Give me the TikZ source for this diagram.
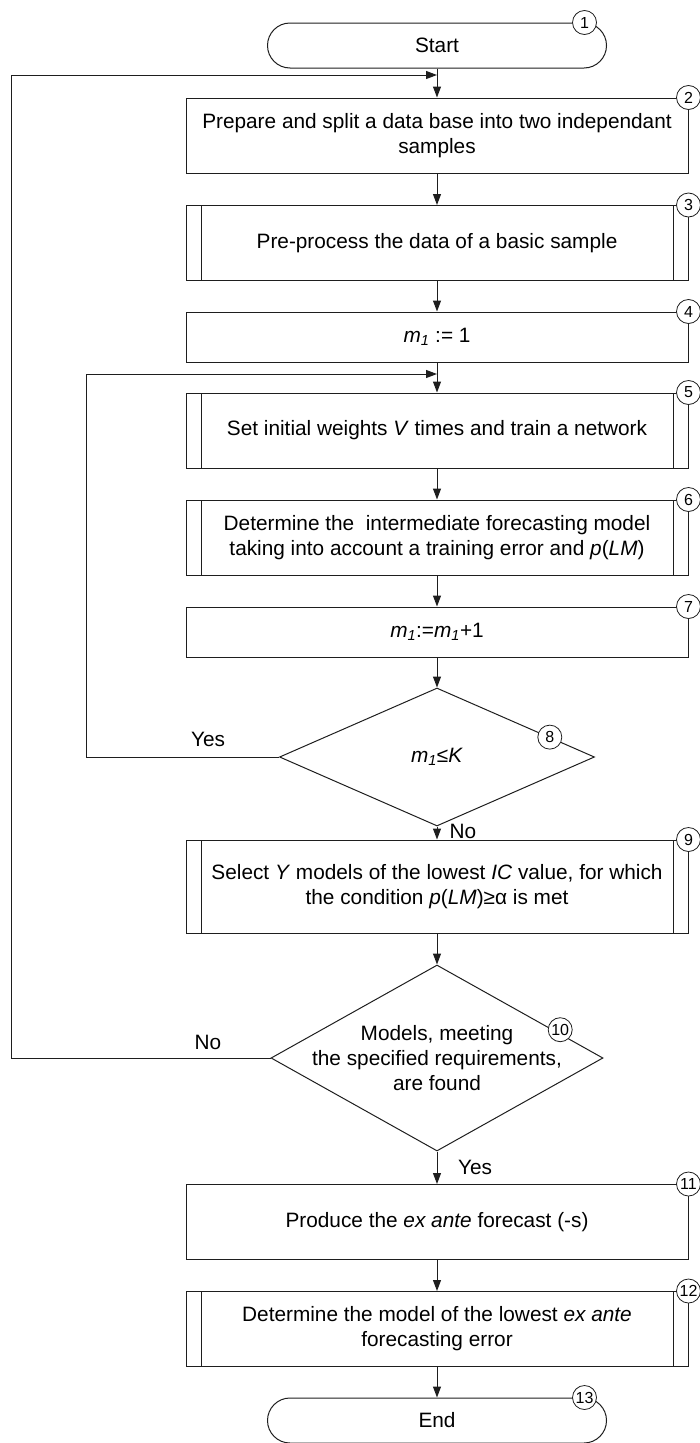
\documentclass[tikz,border=0pt]{standalone}
\usepackage{fontspec}
\setmainfont{Liberation Sans}
\usetikzlibrary{shapes.geometric,arrows.meta,calc}
\definecolor{flowline}{RGB}{30,30,30}
\tikzset{
  every node/.style={font=\fontsize{20.8}{25}\selectfont},
  terminal/.style={draw=flowline, line width=1pt, rounded corners=22.5pt, minimum width=339pt, minimum height=45pt, inner sep=0pt},
  procbox/.style={draw=flowline, line width=1pt, minimum width=502pt, minimum height=75pt, align=center, inner sep=0pt},
  subproc/.style={procbox, path picture={
      \draw[flowline, line width=1pt]
        ([xshift=15pt]path picture bounding box.north west) -- ([xshift=15pt]path picture bounding box.south west)
        ([xshift=-15pt]path picture bounding box.north east) -- ([xshift=-15pt]path picture bounding box.south east);}},
  decision/.style={draw=flowline, line width=1pt, diamond, inner sep=0pt},
  numcirc/.style={circle, draw=flowline, fill=white, line width=0.8pt, minimum size=24pt, inner sep=0pt, font=\fontsize{16}{16}\selectfont},
  flow/.style={draw=flowline, line width=1pt, -{Triangle[length=11pt,width=8pt]}},
  lbl/.style={inner sep=0pt}
}
\newcommand{\mone}{\textit{m}\textsubscript{\textit{1}}}
\begin{document}
\begin{tikzpicture}[x=1pt, y=-1pt]
    \useasboundingbox (0,0) rectangle (700,1443);

    % Main column
    \node[terminal] (start) at (437,45.5) {Start};
    \node[procbox] (box2) at (437,135.5) {Prepare and split a data base into two independant\\samples};
    \node[subproc] (box3) at (437,243) {Pre-process the data of a basic sample};
    \node[procbox, minimum height=50pt] (box4) at (437,337) {\mone{} := 1};
    \node[subproc] (box5) at (437,430.5) {Set initial weights \textit{V} times and train a network};
    \node[subproc] (box6) at (437,537.5) {Determine the~ intermediate forecasting model\\taking into account a training error and \textit{p}(\textit{LM})};
    \node[procbox, minimum height=50pt] (box7) at (437,632) {\mone:=\mone+1};
    \node[decision, minimum width=315pt, minimum height=138pt] (d8) at (437,757) {\mone≤\textit{K}};
    \node[subproc, minimum height=93pt] (box9) at (437,886.5) {Select \textit{Y} models of the lowest \textit{IC} value, for which\\the condition \textit{p}(\textit{LM})≥α is met};
    \node[decision, minimum width=332pt, minimum height=186pt,
          label={[align=center]center:Models, meeting\\the specified requirements,\\are found}] (d10) at (437,1058) {};
    \node[procbox] (box11) at (437,1222) {Produce the \textit{ex ante} forecast (-s)};
    \node[subproc] (box12) at (437,1329) {Determine the model of the lowest \textit{ex ante}\\forecasting error};
    \node[terminal] (end) at (437,1420.5) {End};

    % Step numbers
    \node[numcirc] (c1) at ([xshift=-22.5pt]start.north east) {1};
    \node[numcirc] (c2) at (box2.north east) {2};
    \node[numcirc] (c3) at (box3.north east) {3};
    \node[numcirc] (c4) at (box4.north east) {4};
    \node[numcirc] (c5) at (box5.north east) {5};
    \node[numcirc] (c6) at (box6.north east) {6};
    \node[numcirc] (c7) at (box7.north east) {7};
    \node[numcirc] (c8) at ($(d8.north)!0.714!(d8.east)$) {8};
    \node[numcirc] (c9) at (box9.north east) {9};
    \node[numcirc] (c10) at ([yshift=4pt]$(d10.north)!0.74!(d10.east)$) {10};
    \node[numcirc] (c11) at (box11.north east) {11};
    \node[numcirc] (c12) at (box12.north east) {12};
    \node[numcirc] (c13) at ([xshift=-22.5pt]end.north east) {13};

    % Straight flow
    \draw[flow] (start) -- (box2);
    \draw[flow] (box2) -- (box3);
    \draw[flow] (box3) -- (box4);
    \draw[flow] (box4) -- (box5);
    \draw[flow] (box5) -- (box6);
    \draw[flow] (box6) -- (box7);
    \draw[flow] (box7) -- (d8.north);
    \draw[flow] (d8.south) -- (box9);
    \draw[flow] (box9) -- (d10.north);
    \draw[flow] (d10.south) -- (box11);
    \draw[flow] (box11) -- (box12);
    \draw[flow] (box12) -- (end);

    % Loops back
    \coordinate (j1) at (437,75);
    \coordinate (loopA) at (11,75);
    \draw[flow] (d10.west) -| (loopA) -- (j1);
    \coordinate (j2) at (437,374);
    \coordinate (loopB) at (86,374);
    \draw[flow] (d8.west) -| (loopB) -- (j2);

    % Branch labels
    \node[lbl] (yes8) at (208,739) {Yes};
    \node[lbl] (no8) at (463,831) {No};
    \node[lbl] (no10) at (208,1042) {No};
    \node[lbl] (yes10) at (475,1167) {Yes};
\end{tikzpicture}
\end{document}
